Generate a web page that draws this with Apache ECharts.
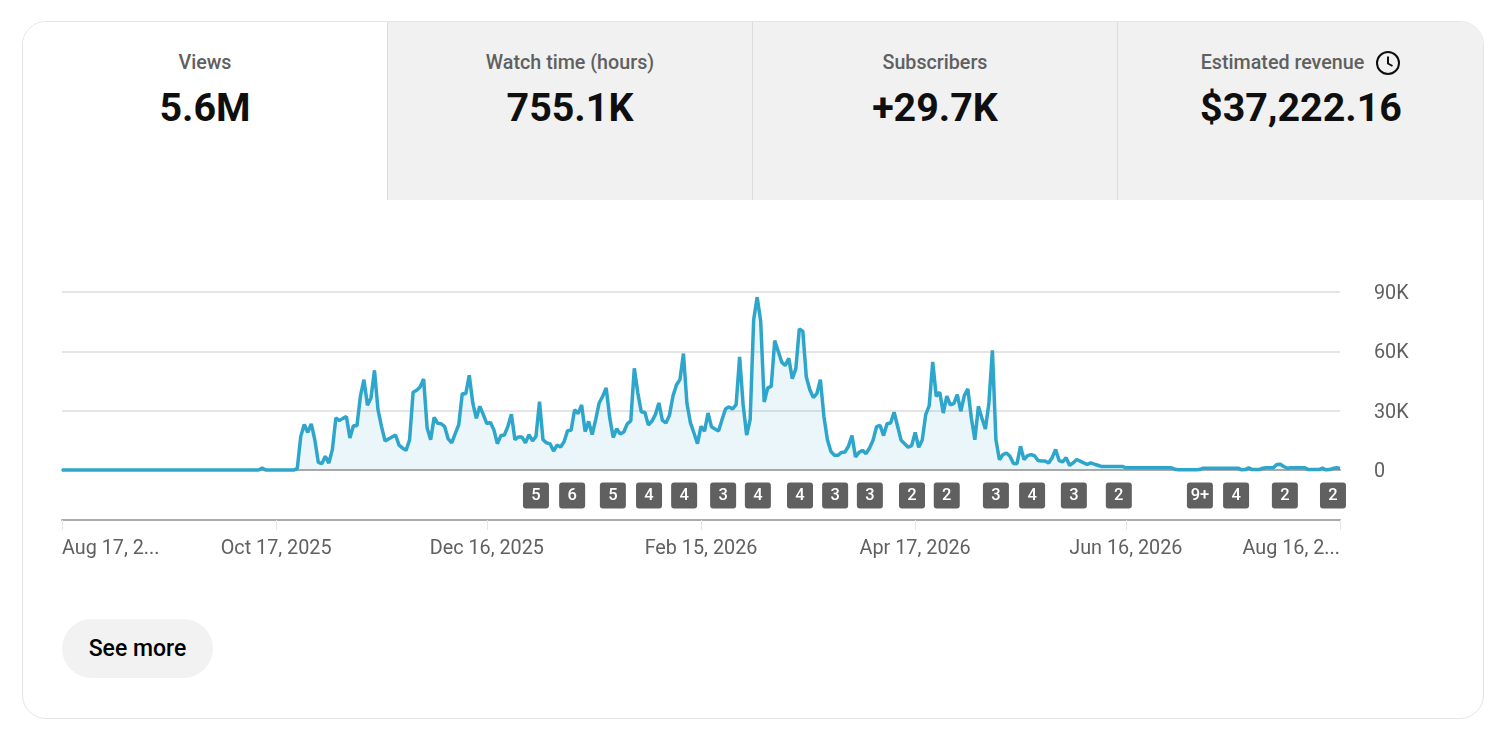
<!DOCTYPE html>
<html><head><meta charset="utf-8">
<script src="https://cdn.jsdelivr.net/npm/echarts@6/dist/echarts.min.js"></script>
<style>
html,body{margin:0;padding:0;background:#fff;width:1501px;height:733px;overflow:hidden;font-family:Roboto,sans-serif}
#card{position:absolute;left:22px;top:21px;width:1460px;height:696px;border:1px solid #e5e5e5;border-radius:24px;overflow:hidden;background:#fff}
.tab{position:absolute;top:0;height:178px;width:364px;background:#f1f1f1;border-left:1px solid #dcdcdc;text-align:center;box-sizing:content-box}
.tab.first{background:#fff;border-left:none}
.lab{position:absolute;left:0;right:0;top:29px;line-height:24px;font-size:19.7px;font-weight:500;color:#606060}
.val{position:absolute;left:0;right:0;top:61px;line-height:50px;font-size:39.4px;font-weight:700;color:#0f0f0f}
#chart{position:absolute;left:0;top:0;width:1501px;height:733px}
#more{position:absolute;left:62px;top:619px;width:151px;height:59px;border-radius:30px;background:#f2f2f2;color:#000;text-align:center;line-height:59px;font-size:23px;font-weight:500}
svg{vertical-align:middle}
</style></head><body>
<div id="card"></div>
<div id="chart"></div>
<div id="more">See more</div>
<script>
// Metric tabs
const tabLabels = ['Views', 'Watch time (hours)', 'Subscribers', 'Estimated revenue'];
const tabValues = ['5.6M', '755.1K', '+29.7K', '$37,222.16'];

// Daily views, in thousands, starting Aug 17, 2025
const startDate = '2025-08-17';
const viewsK = [
0,0,0,0,0,0,0,0,0,0,0,0,0,0,0,0,0,0,0,0,0,0,0,0,0,0,0,0,0,0,0,0,0,0,0,0,0,0,0,0,0,0,0,0,0,0,0,0,0,0,0,0,0,0,0,0,0,
1,0,0,0,0,0,0,0,0,0,
0.7,17,23,19,23.3,15.3,3.9,3.2,6.9,3.5,10.3,26.3,25,26.1,27,16.2,22.4,22.4,37.3,45.7,32.7,36.4,50.4,30.5,22.1,14.7,15.7,16.7,17.7,12.6,11.1,9.9,15.3,
39.3,40.3,42,46,21.2,15.3,26.6,23.6,23.4,21.9,15.7,13.7,18.4,22.9,38.6,38.6,47.9,33.9,26.1,32.2,28,23.4,24.1,20.4,13.3,17.4,17.7,22.1,28.2,15.3,16.7,16.7,13.7,17.9,14.7,17,34.6,15.3,13.7,13.3,9.6,12.6,11.6,14.3,19.9,20.1,30.5,28.5,32.9,19.4,24.6,17.9,25.5,33.9,37.3,41.5,26.5,16.4,20.9,18.2,19.2,23.3,24.8,51.4,
39,29.3,29.2,22.8,24.6,28,33.9,25.1,23.8,27.5,37.3,43,45.7,58.9,33.6,23.8,18.7,13.3,22.1,19.6,28.8,21.8,20.7,19.7,25.5,31,31.9,30.9,33,57.2,33,17.7,25.5,76,87.4,75.2,34.4,41.5,42.3,65.4,60,54.5,52.8,56.5,46.2,51.1,71.3,70.2,47,40.6,36.6,38.6,45.7,27.2,15.3,9.4,7.4,7.4,8.9,9.1,12,17.4,6.6,8.9,9.9,8.3,11.1,15,21.9,22.6,17.4,23.4,23.8,29.2,22.1,15,13.3,11.5,12.3,19,11.5,15,28,32.5,54.6,37.3,39.3,28.8,37.3,33,33.6,38.1,29.7,37.6,41,26.3,15.3,32.2,26.3,20.7,33.9,60.5,15.3,5.2,7.8,8.6,6.9,3.3,3.2,
12,5.3,7.3,7.8,7.2,4.8,4.5,4.5,3.5,6.2,10.4,4.8,4.1,6.2,2.3,3.6,5.3,4.5,3.6,2.8,3.6,3,2.4,1.8,
1.8,1.8,1.8,1.8,1.8,1.8,
1.1,1.1,1.1,1.1,1.1,1.1,1.1,1.1,1.1,1.1,1.1,1.1,1.1,1.1,
0.4,0.1,0.1,0.1,0.1,0.1,0.1,0.2,
0.9,0.9,0.9,0.9,0.9,0.9,0.9,0.9,0.9,0.9,0.9,
0.1,0.2,1.1,0.2,0.2,0.2,0.9,1.1,1.1,1.1,2.8,2.9,1.8,0.9,1.1,1.1,1.1,1.1,1.1,0.2,0.2,0.2,0.2,0.9,0.1,0.2,0.8,1.1,0.8
];

// Annotation badges: day offset from startDate, and badge text
const badgeDays = [135,145.3,156.9,167.2,177.2,188.3,198.2,210.2,220.2,230.1,242.1,252,266,276.3,288.2,301,324.1,334.4,348.3,362];
const badgeTexts = ['5','6','5','4','4','3','4','4','3','3','2','2','3','4','3','2','9+','4','2','2'];

// Axis ticks
const tickDates = ['2025-08-17','2025-10-17','2025-12-16','2026-02-15','2026-04-17','2026-06-16','2026-08-16'];
const tickLabels = ['Aug 17, 2...','Oct 17, 2025','Dec 16, 2025','Feb 15, 2026','Apr 17, 2026','Jun 16, 2026','Aug 16, 2...'];
const yTicks = [0,30,60,90];

const DAY = 86400000;
const t0 = Date.parse(startDate + 'T00:00:00Z');
const tickMs = tickDates.map(d => Date.parse(d + 'T00:00:00Z'));
const tMax = tickMs[tickMs.length - 1];

// Build the tabs
const card = document.getElementById('card');
const clock = '<svg width="26" height="26" viewBox="0 0 26 26" style="margin-left:11px;margin-top:-2px"><circle cx="13" cy="13" r="11" fill="none" stroke="#0f0f0f" stroke-width="2"/><path d="M13 6.5V13.5L17.5 16" fill="none" stroke="#0f0f0f" stroke-width="2"/></svg>';
tabLabels.forEach((l, i) => {
  const d = document.createElement('div');
  d.className = 'tab' + (i === 0 ? ' first' : '');
  d.style.left = (i === 0 ? 0 : 364 + (i - 1) * 365) + 'px';
  if (i === 3) d.style.width = '366px';
  d.innerHTML = '<div class="lab">' + l + (i === 3 ? clock : '') + '</div><div class="val">' + tabValues[i] + '</div>';
  card.appendChild(d);
});

const font = 'Roboto';
const badgeShape = 'path://M3 0H23A3 3 0 0 1 26 3V23A3 3 0 0 1 23 26H3A3 3 0 0 1 0 23V3A3 3 0 0 1 3 0Z';
const chart = echarts.init(document.getElementById('chart'), null, {renderer: 'canvas'});
chart.setOption({
  animation: false,
  backgroundColor: 'transparent',
  grid: [
    {left: 62, right: 161, top: 292, height: 178, containLabel: false},
    {left: 62, right: 161, top: 471, height: 49, containLabel: false},
    {left: 62, right: 161, top: 294, height: 178, containLabel: false}
  ],
  xAxis: [
    {type: 'value', gridIndex: 0, min: t0, max: tMax, scale: true,
     axisLine: {show: true, onZero: true, lineStyle: {color: '#aaaaaa', width: 2}},
     axisTick: {show: false}, axisLabel: {show: false}, splitLine: {show: false}},
    {type: 'value', gridIndex: 1, min: t0, max: tMax, scale: true, position: 'bottom',
     axisLine: {show: true, lineStyle: {color: '#aaaaaa', width: 2}},
     axisTick: {show: true, length: 10, customValues: tickMs, lineStyle: {color: '#e5e5e5', width: 1}},
     axisLabel: {show: true, customValues: tickMs, margin: 19, fontFamily: font, fontSize: 19.8, color: '#606060',
       alignMinLabel: 'left', alignMaxLabel: 'right', hideOverlap: false, showMinLabel: true, showMaxLabel: true,
       formatter: v => tickLabels[tickMs.indexOf(v)]},
     splitLine: {show: false}},
    {type: 'value', gridIndex: 2, min: t0, max: tMax, scale: true, show: false}
  ],
  yAxis: [
    {type: 'value', gridIndex: 0, position: 'right', min: 0, max: 90, interval: 30,
     axisLine: {show: false}, axisTick: {show: false}, axisLabel: {show: false},
     splitLine: {show: true, lineStyle: {color: '#e5e5e5', width: 2}}},
    {type: 'value', gridIndex: 1, min: 0, max: 1, show: false},
    {type: 'value', gridIndex: 2, position: 'right', min: 0, max: 90, interval: 30,
     axisLine: {show: false}, axisTick: {show: false}, splitLine: {show: false},
     axisLabel: {margin: 34, fontFamily: font, fontSize: 19.8, color: '#606060',
       formatter: v => yTicks.includes(v) ? (v === 0 ? '0' : v + 'K') : ''}}
  ],
  series: [
    {type: 'line', xAxisIndex: 0, yAxisIndex: 0, showSymbol: false, symbol: 'none', smooth: false,
     clip: false, z: 3,
     lineStyle: {color: '#2ea6cb', width: 3.5},
     areaStyle: {color: '#2ea6cb', opacity: 0.1},
     data: viewsK.map((v, i) => [t0 + i * DAY, v])},
    {type: 'scatter', xAxisIndex: 1, yAxisIndex: 1, symbol: badgeShape, symbolSize: 26, clip: false,
     itemStyle: {color: '#606060', opacity: 1},
     label: {show: true, position: 'inside', color: '#fff', fontFamily: font, fontWeight: 500, fontSize: 16.5,
       formatter: p => badgeTexts[p.dataIndex]},
     data: badgeDays.map(d => [t0 + d * DAY, 0.5])}
  ]
});
</script>
</body></html>
